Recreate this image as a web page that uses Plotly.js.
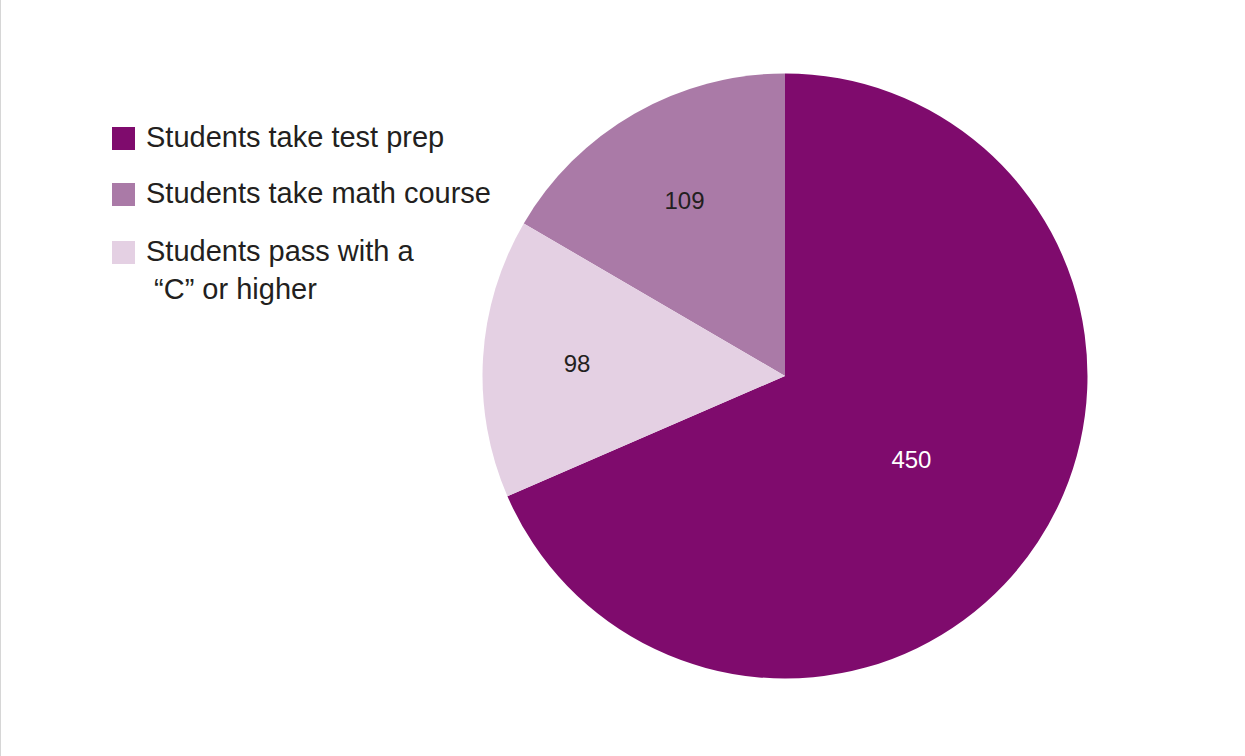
<!DOCTYPE html>
<html>
<head>
<meta charset="utf-8">
<script src="https://cdn.plot.ly/plotly-3.0.1.min.js"></script>
<style>
html,body{margin:0;padding:0;background:#fff;}
#chart{width:1245px;height:756px;}
</style>
</head>
<body>
<div id="chart"></div>
<script>
// ---- data ----
const labels = ["Students take test prep", "Students take math course", "Students pass with a<br>\u00a0\u201cC\u201d or higher"];
const values = [450, 109, 98];
const sliceColors = ["#7f0b6d", "#aa7aa7", "#e4d0e3"];
const textColors = ["#ffffff", "#231f20", "#231f20"];

const W = 1245, H = 756;
const px = v => v / W;
const py = v => 1 - v / H;

// pie geometry (pixels)
const cx = 785, cy = 376, r = 302.5;

const font = "'Liberation Sans Narrow', 'Arial Narrow', 'Liberation Sans', Arial, sans-serif";

const trace = {
  type: "pie",
  labels: labels,
  values: values,
  sort: false,
  direction: "counterclockwise",
  rotation: 0,
  marker: {colors: sliceColors, line: {width: 0}},
  textinfo: "value",
  textposition: "inside",
  insidetextorientation: "horizontal",
  textfont: {family: font, size: 24, color: textColors},
  hoverinfo: "label+value",
  showlegend: false,
  domain: {x: [px(cx - r), px(cx + r)], y: [py(cy + r), py(cy - r)]}
};

// custom legend built from labels/colors
const rowCenters = [138.5, 194.5, 252.5];
const legFont = 29;
const shapes = [];
const annotations = [];
labels.forEach((lab, i) => {
  const c = rowCenters[i];
  shapes.push({type: "rect", xref: "paper", yref: "paper",
    x0: px(112), x1: px(135), y0: py(c + 11.5), y1: py(c - 11.5),
    fillcolor: sliceColors[i], line: {width: 0}});
  annotations.push({xref: "paper", yref: "paper", x: px(144), y: py(c - legFont * 0.65 - 1),
    xanchor: "left", yanchor: "top", align: "left", showarrow: false,
    text: lab, font: {family: font, size: legFont, color: "#231f20"}});
});
// left border line
shapes.push({type: "line", xref: "paper", yref: "paper", x0: px(0.5), x1: px(0.5), y0: 0, y1: 1,
  line: {color: "#d6d6d6", width: 1}});

const layout = {
  width: W, height: H,
  margin: {l: 0, r: 0, t: 0, b: 0},
  paper_bgcolor: "#ffffff",
  plot_bgcolor: "#ffffff",
  showlegend: false,
  shapes: shapes,
  annotations: annotations
};

Plotly.newPlot("chart", [trace], layout, {displayModeBar: false, staticPlot: true});
</script>
</body>
</html>
